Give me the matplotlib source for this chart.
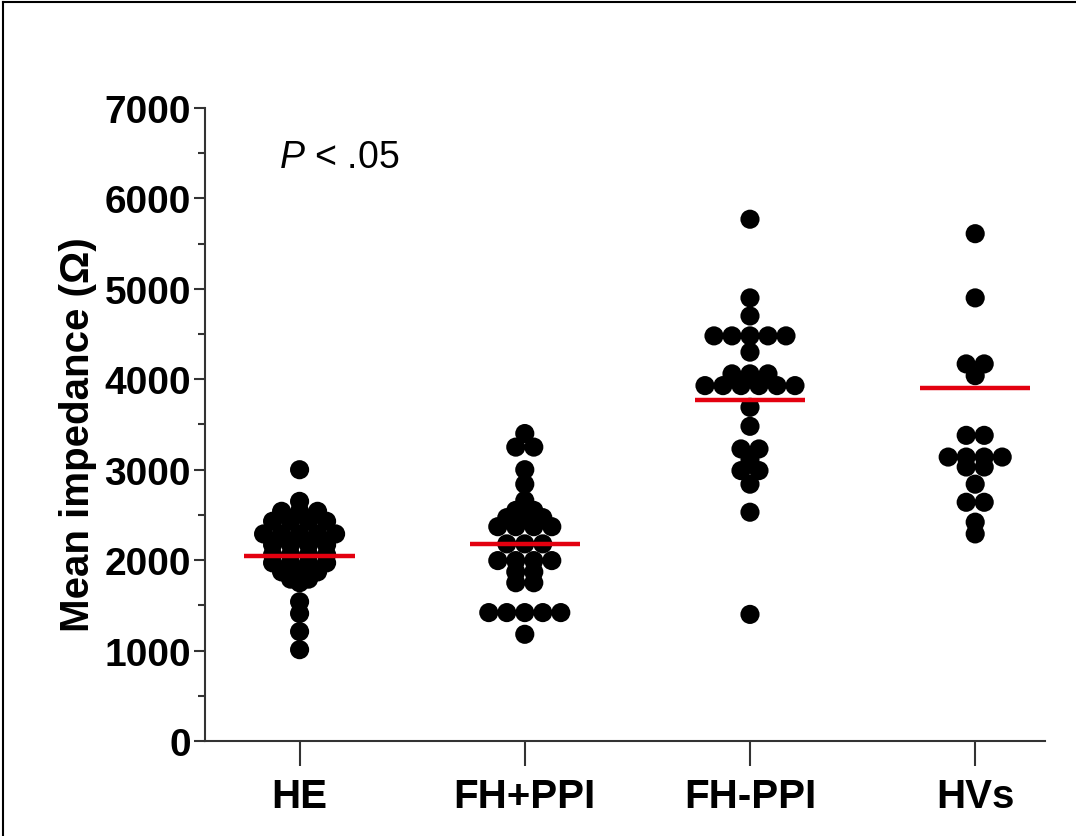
import matplotlib
matplotlib.use("Agg")
import matplotlib.pyplot as plt
import numpy as np
from matplotlib.lines import Line2D

# groups and the values (Ohm)
groups = ["HE", "FH+PPI", "FH-PPI", "HVs"]

he = [3000, 2650,
      2540, 2540, 2540,
      2430, 2430, 2430, 2430,
      2290, 2290, 2290, 2290, 2290,
      2170, 2170, 2170, 2170,
      2060, 2060, 2060, 2060,
      1970, 1970, 1970, 1970,
      1870, 1870, 1870,
      1790, 1790, 1750,
      1540, 1410, 1210, 1010]

fh_ppi = [3400, 3250, 3250, 3000, 2840, 2660,
          2550, 2550,
          2470, 2470, 2470,
          2370, 2370, 2370, 2370,
          2180, 2180, 2180,
          1995, 1995, 1995, 1995,
          1870, 1870,
          1750, 1750,
          1420, 1420, 1420, 1420, 1420,
          1180]

fh_noppi = [5770, 4900, 4700,
            4480, 4480, 4480, 4480, 4480,
            4300,
            4060, 4060, 4060,
            3930, 3930, 3930, 3930, 3930, 3930,
            3690, 3480,
            3230, 3230, 3110, 2990, 2990, 2840,
            2530, 1400]

hvs = [5610, 4900, 4170, 4170, 4040,
       3380, 3380,
       3140, 3140, 3140, 3140,
       3030, 3030, 2840,
       2640, 2640, 2420, 2290]

means = [2050, 2180, 3770, 3900]

data = [he, fh_ppi, fh_noppi, hvs]

plt.rcParams["font.family"] = ["Liberation Sans", "DejaVu Sans"]
plt.rcParams["mathtext.fontset"] = "custom"
plt.rcParams["mathtext.it"] = "Liberation Sans:italic"
plt.rcParams["mathtext.rm"] = "Liberation Sans"

W, H = 1076, 837
fig = plt.figure(figsize=(W / 100, H / 100), dpi=100)
ax = fig.add_axes([205 / W, (H - 742) / H, 840 / W, 633 / H])

xmin, xmax = -0.42, 3.31
ax.set_xlim(xmin, xmax)
ax.set_ylim(0, 7000)

# horizontal spacing of dots sharing one value, in data units
px_per_unit = 840 / (xmax - xmin)
step = 18.0 / px_per_unit


def row_offsets(vals, step):
    vals = np.asarray(vals)
    offs = np.zeros(len(vals))
    for v in np.unique(vals):
        idx = np.where(vals == v)[0]
        n = len(idx)
        offs[idx] = (np.arange(n) - (n - 1) / 2) * step
    return offs


for i, vals in enumerate(data):
    xs = i + row_offsets(vals, step)
    ax.scatter(xs, vals, s=190, color="black", edgecolors="none", zorder=3)
    ax.plot([i - 0.245, i + 0.245], [means[i], means[i]], color="#e3000f",
            lw=3.2, zorder=4, solid_capstyle="butt")

for side in ["top", "right"]:
    ax.spines[side].set_visible(False)
for side in ["left", "bottom"]:
    ax.spines[side].set_linewidth(1.5)
    ax.spines[side].set_color("#333333")

ax.set_yticks(np.arange(0, 7001, 1000))
ax.set_yticks(np.arange(500, 7000, 1000), minor=True)
ax.set_xticks(range(len(groups)))
ax.set_xticklabels(groups)
ax.tick_params(axis="y", which="major", length=8, width=1.5, labelsize=28, pad=2,
               color="#333333")
ax.tick_params(axis="y", which="minor", length=5, width=1.5, color="#333333")
ax.tick_params(axis="x", which="major", length=18, width=1.5, labelsize=29, pad=8,
               color="#333333")
for lab in ax.get_xticklabels() + ax.get_yticklabels():
    lab.set_fontweight("bold")

ax.set_ylabel("Mean impedance (Ω)", fontsize=29, fontweight="bold")
ax.yaxis.set_label_coords(-0.128, 0.486)

ax.text(-0.09, 6460, r"$\mathit{P}$ < .05", fontsize=27, ha="left", va="center")

# frame around the figure (top and left edges visible)
fig.add_artist(Line2D([3 / W, 3 / W], [0, 1 - 3 / H], transform=fig.transFigure,
                      color="black", lw=1.5))
fig.add_artist(Line2D([3 / W, 1], [1 - 3 / H, 1 - 3 / H], transform=fig.transFigure,
                      color="black", lw=1.5))

fig.savefig("out.png", dpi=100)
